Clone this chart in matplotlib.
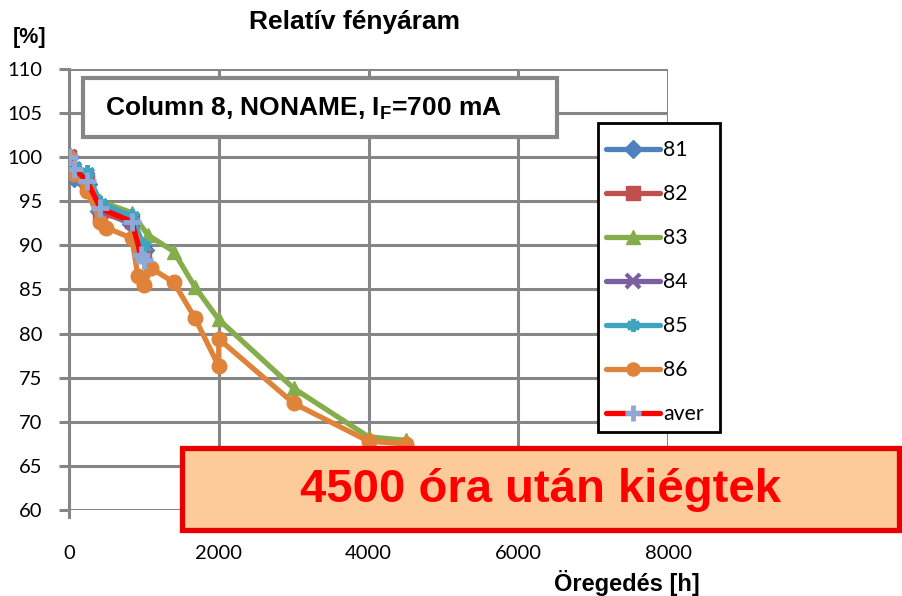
import matplotlib
matplotlib.use("Agg")
import matplotlib.pyplot as plt
from matplotlib.patches import Rectangle

# ---- data ----
hours_short = [0, 72, 240, 420, 840, 1000]
rel_81 = [100.0, 97.8, 97.0, 93.9, 92.4, 89.5]
rel_82 = [100.0, 98.2, 97.3, 93.6, 92.8, 89.0]
rel_84 = [100.0, 98.5, 97.5, 94.2, 92.9, 89.3]
rel_85 = [100.0, 99.0, 98.3, 94.8, 93.3, 89.9]
hours_83 = [0, 72, 240, 420, 840, 1050, 1400, 1680, 2000, 3000, 4000, 4500]
rel_83 = [100.0, 98.6, 97.8, 95.0, 93.7, 91.2, 89.3, 85.3, 81.6, 73.8, 68.3, 67.9]
hours_86 = [0, 72, 240, 420, 500, 840, 920, 1000, 1100, 1400, 1680, 2000, 2000, 3000, 4000, 4500]
rel_86 = [100.0, 98.1, 96.2, 92.6, 92.0, 90.8, 86.5, 85.5, 87.4, 85.8, 81.8, 76.3, 79.4, 72.1, 67.8, 67.5]
hours_aver = [0, 72, 240, 420, 840, 960, 1000]
rel_aver = [100.0, 98.7, 97.3, 94.2, 92.7, 88.9, 88.3]

x_ticks = [0, 2000, 4000, 6000, 8000]
y_ticks = [60, 65, 70, 75, 80, 85, 90, 95, 100, 105, 110]

title = "Relatív fényáram"
x_label = "Öregedés [h]"
y_label = "[%]"
info_text = "Column 8, NONAME, I$_\\mathregular{F}$=700 mA"
note_text = "4500 óra után kiégtek"

W, H = 903, 596
fig = plt.figure(figsize=(W / 100, H / 100), dpi=100)
ax = fig.add_axes([69 / W, 1 - 510 / H, (668 - 69) / W, (510 - 69) / H])

grid_c = "#868686"
lw = 3.8
ms = 10.5

series = [
    (hours_short, rel_81, "81", "#4F81BD", "D", {}),
    (hours_short, rel_82, "82", "#C0504D", "s", {}),
    (hours_83, rel_83, "83", "#86AD4C", "^", {}),
    (hours_short, rel_84, "84", "#7B5FA0", "x", {"markeredgewidth": 3}),
    (hours_short, rel_85, "85", "#3FA4C0", (6, 2, 0), {"markeredgewidth": 3}),
    (hours_86, rel_86, "86", "#E0833A", "o", {}),
]
handles = []
for xs, ys, lab, c, m, extra in series:
    h, = ax.plot(xs, ys, color=c, lw=lw, marker=m, ms=ms, label=lab,
                 solid_capstyle="round", solid_joinstyle="round", zorder=3, **extra)
    handles.append(h)
h, = ax.plot(hours_aver, rel_aver, color="#FF0000", lw=lw, marker="+", ms=13,
             markeredgewidth=3.5, markeredgecolor="#8EA9D8", label="aver",
             solid_capstyle="round", zorder=4)
handles.append(h)

ax.set_xlim(0, 8000)
ax.set_ylim(60, 110)
ax.set_xticks(x_ticks)
ax.set_yticks(y_ticks)
ax.grid(True, color=grid_c, lw=2.2, zorder=0)
ax.set_axisbelow(True)
for s in ["top", "right", "bottom"]:
    ax.spines[s].set_visible(False)
ax.spines["left"].set_color(grid_c)
ax.spines["left"].set_linewidth(2.2)
ax.spines["left"].set_bounds(59.2, 110)
ax.tick_params(axis="y", length=7, width=2.2, color=grid_c, pad=12,
               labelsize=14.5)
ax.tick_params(axis="x", length=0, pad=25, labelsize=14.5)
for lab in ax.get_xticklabels() + ax.get_yticklabels():
    lab.set_fontfamily("Lato")

bold = dict(family="Liberation Sans", weight="bold")
fig.text(355 / W, 1 - 22 / H, title, ha="center", va="center", fontsize=19, **bold)
fig.text(30 / W, 1 - 37 / H, y_label, ha="center", va="center", fontsize=15.5, **bold)
fig.text(627 / W, 1 - 583 / H, x_label, ha="center", va="center", fontsize=17, **bold)

# info box
fig.add_artist(Rectangle((83 / W, 1 - 137 / H), (557 - 83) / W, (137 - 78) / H,
                         transform=fig.transFigure, facecolor="white",
                         edgecolor=grid_c, lw=3, zorder=5))
fig.text(105 / W, 1 - 108 / H, info_text, ha="left", va="center",
         fontsize=19, zorder=6, **bold)

# legend frame (drawn separately for exact placement)
fig.add_artist(Rectangle((598 / W, 1 - 432 / H), (720 - 598) / W, (432 - 123) / H,
                         transform=fig.transFigure, facecolor="white",
                         edgecolor="black", lw=2, zorder=4))
leg = fig.legend(handles=handles, loc="upper left",
                 bbox_to_anchor=(606 / W, 1 - 140 / H),
                 bbox_transform=fig.transFigure, frameon=False,
                 handlelength=2.55, handletextpad=0.15,
                 labelspacing=1.13, borderpad=0, borderaxespad=0,
                 markerscale=0.9, prop={"family": "Lato", "size": 15.3})
leg.set_zorder(7)

# note box
fig.add_artist(Rectangle((182 / W, 1 - 530 / H), (899 - 182) / W, (530 - 448) / H,
                         transform=fig.transFigure, facecolor="#FDCA99",
                         edgecolor="#E80000", lw=3.8, zorder=8))
fig.text(541 / W, 1 - 490 / H, note_text, ha="center", va="center",
         fontsize=34, color="#FF0000", zorder=9, **bold)

fig.savefig("out.png", dpi=100)
